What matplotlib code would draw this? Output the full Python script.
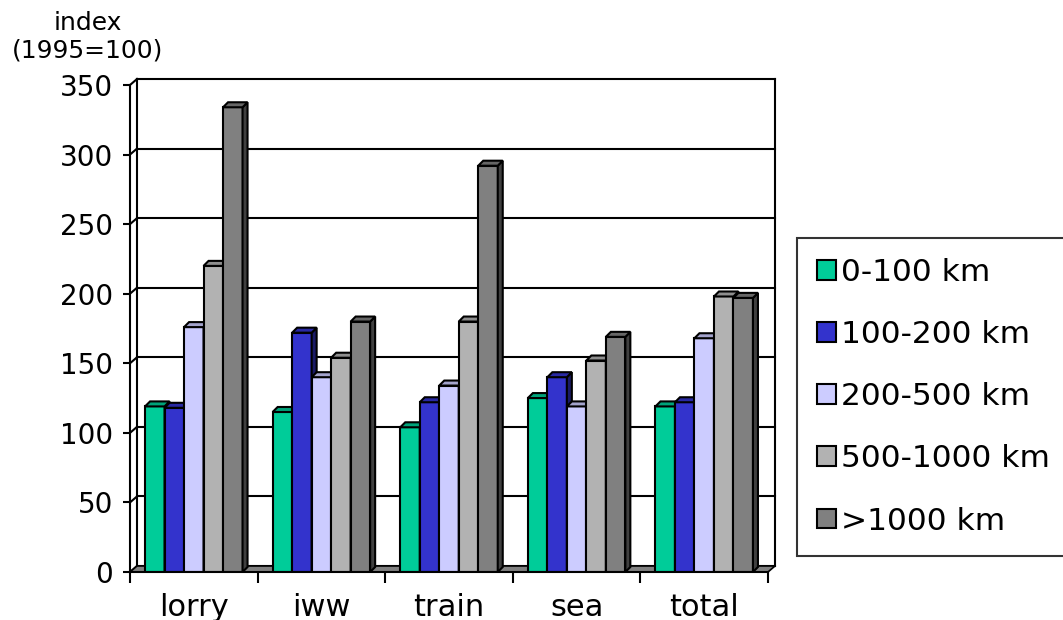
import matplotlib.pyplot as plt
from matplotlib.patches import Polygon, Patch
import numpy as np

# values (index, 1995=100)
categories = ['lorry', 'iww', 'train', 'sea', 'total']
series = ['0-100 km', '100-200 km', '200-500 km', '500-1000 km', '>1000 km']
v_0_100 = [119, 115, 104, 125, 119]
v_100_200 = [118, 172, 122, 140, 122]
v_200_500 = [176, 140, 134, 119, 168]
v_500_1000 = [220, 154, 180, 152, 198]
v_over_1000 = [334, 180, 292, 169, 197]
values = [v_0_100, v_100_200, v_200_500, v_500_1000, v_over_1000]

colors = ['#00CC99', '#3333CC', '#CCCCFF', '#B2B2B2', '#808080']


def shade(c, f):
    r, g, b = [int(c[i:i + 2], 16) / 255 for i in (1, 3, 5)]
    return (r * f, g * f, b * f)


plt.rcParams['font.family'] = 'DejaVu Sans'

W, H = 1063, 620
fig = plt.figure(figsize=(W / 100, H / 100), dpi=100)
ax_l, ax_b, ax_w, ax_h = 130, 48, 638, 487
ax = fig.add_axes([ax_l / W, ax_b / H, ax_w / W, ax_h / H])

ymax = 350
n = len(categories)
ax.set_xlim(0, n)
ax.set_ylim(0, ymax)

# pixel -> data conversions for the fake 3D depth
px_x = ax_w / n
px_y = ax_h / ymax
wdx, wdy = 7 / px_x, 6 / px_y      # wall depth
bdx, bdy = 5 / px_x, 5 / px_y      # bar depth

lw = 1.5
# back wall gridlines
for yv in np.arange(0, ymax + 1, 50):
    ax.plot([wdx, n + wdx], [yv + wdy, yv + wdy], color='black', lw=lw,
            zorder=1, clip_on=False)
    ax.plot([0, wdx], [yv, yv + wdy], color='black', lw=lw,
            zorder=1, clip_on=False)
ax.plot([wdx, wdx], [wdy, ymax + wdy], color='black', lw=lw, zorder=1, clip_on=False)
ax.plot([n + wdx, n + wdx], [wdy, ymax + wdy], color='black', lw=lw, zorder=1,
        clip_on=False)

# floor
ax.add_patch(Polygon([(0, 0), (n, 0), (n + wdx, wdy), (wdx, wdy)], closed=True,
                     facecolor='#808080', edgecolor='black', lw=1.2, zorder=2,
                     clip_on=False))

bw = 19.5 / px_x
k = len(series)
z = 3
for i in range(n):
    start = i + 0.5 - k * bw / 2
    for j in range(k):
        x0 = start + j * bw
        h = values[j][i]
        ax.bar(x0, h, width=bw, align='edge', color=colors[j], edgecolor='black',
               linewidth=lw, zorder=z)
        ax.add_patch(Polygon([(x0 + bw, 0), (x0 + bw, h), (x0 + bw + bdx, h + bdy),
                              (x0 + bw + bdx, bdy)], closed=True,
                             facecolor=shade(colors[j], 0.5), edgecolor='black',
                             lw=lw, zorder=z, clip_on=False))
        ax.add_patch(Polygon([(x0, h), (x0 + bw, h), (x0 + bw + bdx, h + bdy),
                              (x0 + bdx, h + bdy)], closed=True,
                             facecolor=shade(colors[j], 0.8), edgecolor='black',
                             lw=lw, zorder=z, clip_on=False))
        z += 1

for s in ['top', 'right']:
    ax.spines[s].set_visible(False)
for s in ['left', 'bottom']:
    ax.spines[s].set_linewidth(lw)
    ax.spines[s].set_zorder(200)

ax.set_yticks(np.arange(0, ymax + 1, 50))
ax.tick_params(axis='y', length=5, width=lw, labelsize=20, pad=7)
ax.set_xticks(np.arange(0, n + 1))
ax.set_xticklabels([])
ax.set_xticks(np.arange(n) + 0.5, minor=True)
ax.set_xticklabels(categories, minor=True)
ax.tick_params(axis='x', which='major', length=8, width=lw)
ax.tick_params(axis='x', which='minor', length=0, labelsize=22, pad=15)

fig.text(88 / W, 1 - 37 / H, 'index\n(1995=100)', ha='center', va='center',
         fontsize=18, linespacing=1.2)

handles = [Patch(facecolor=c, edgecolor='black', lw=lw) for c in colors]
leg = fig.legend(handles, series, loc='upper left',
                 bbox_to_anchor=(797 / W, 1 - 238 / H), frameon=True,
                 fancybox=False, edgecolor='black', fontsize=22.5,
                 handlelength=0.6, handleheight=0.6, handletextpad=0.16,
                 labelspacing=1.06, borderpad=0.64, borderaxespad=0)
leg.get_frame().set_linewidth(lw)

fig.savefig('out.png', dpi=100)
